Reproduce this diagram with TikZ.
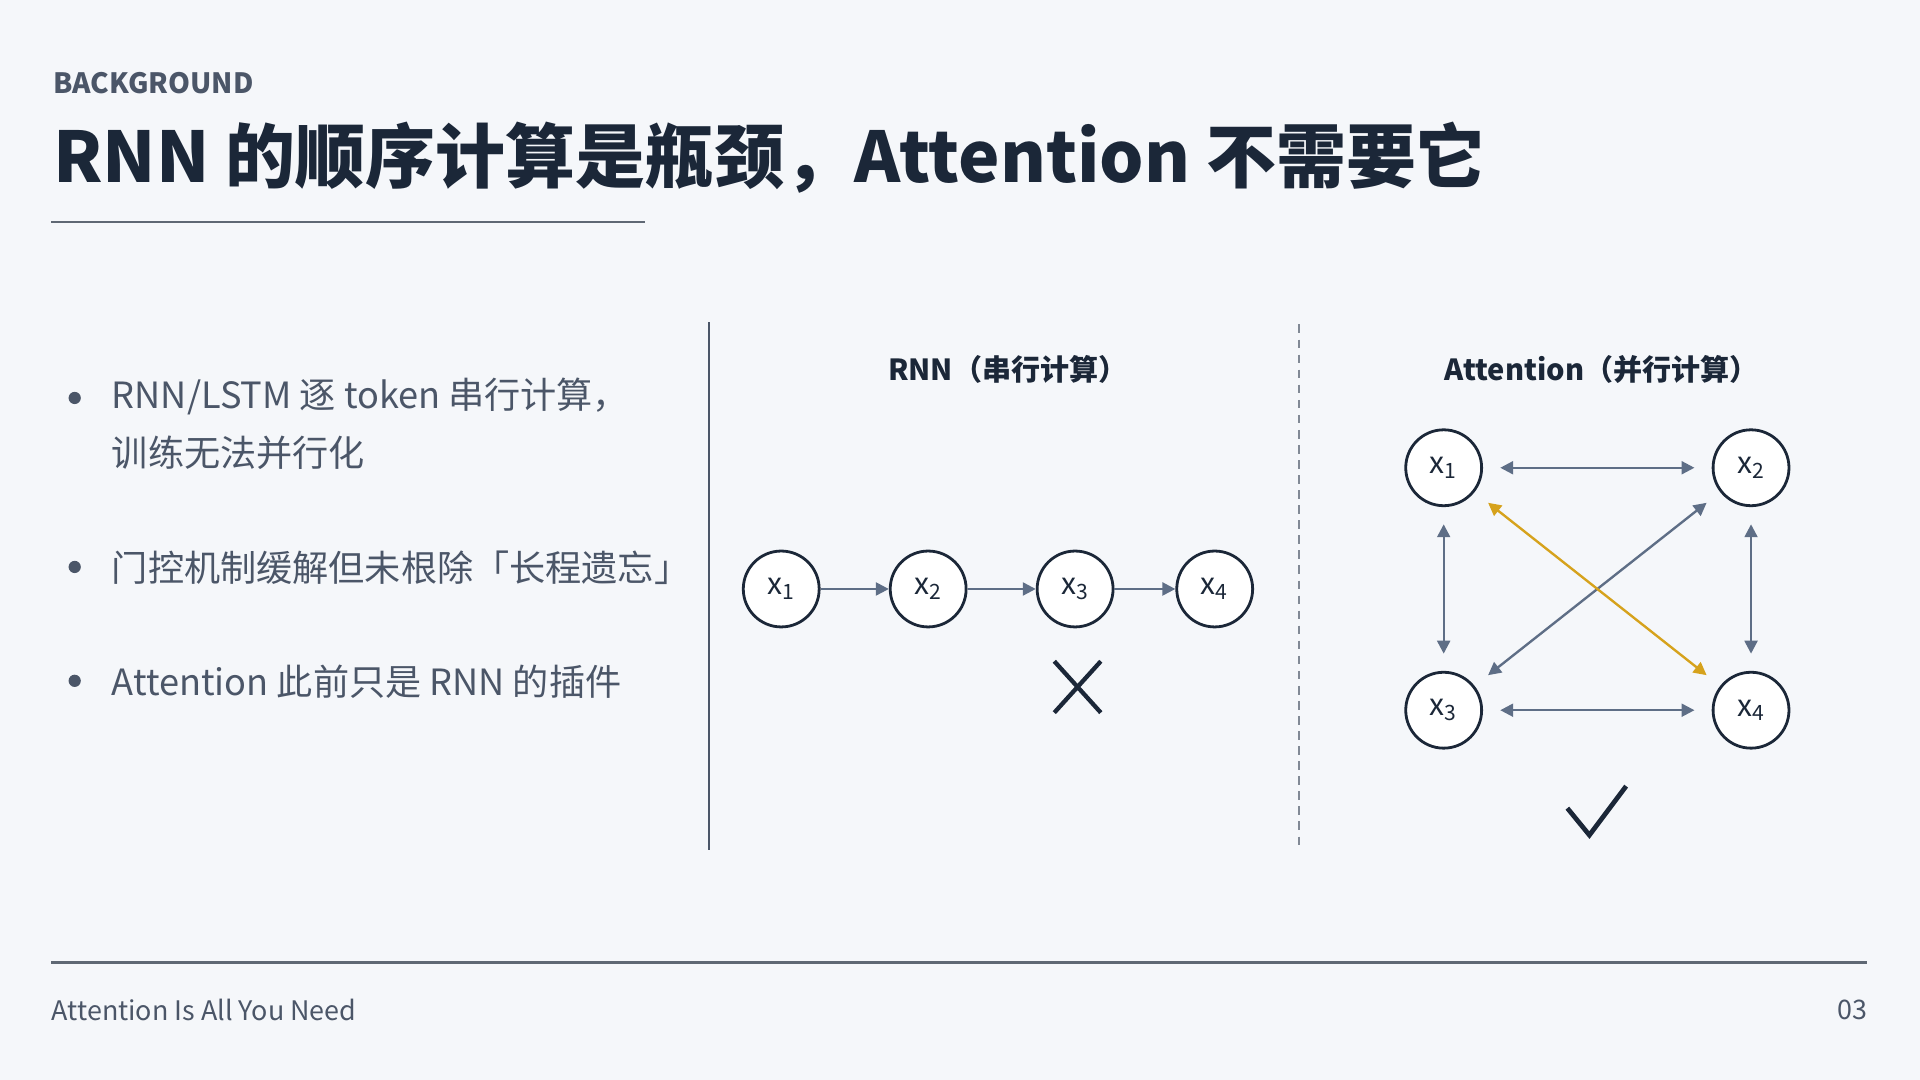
\documentclass[tikz,border=0pt]{standalone}
\usepackage{fontspec}
\setmainfont{Noto Sans CJK SC}
\usetikzlibrary{arrows.meta}
\definecolor{bgcol}{HTML}{F5F7FA}
\definecolor{navy}{HTML}{1B2738}
\definecolor{greytext}{HTML}{4B5668}
\definecolor{arrowcol}{HTML}{5E6E86}
\definecolor{gold}{HTML}{D6A21C}
\tikzset{
  tok/.style={circle, draw=navy, line width=1.3pt, fill=white, minimum size=1.24cm, inner sep=0pt, font=\fontsize{14}{16}\selectfont, text=navy},
  link/.style={draw=arrowcol, line width=1.1pt, -{Triangle[length=6pt,width=6pt]}},
  twoway/.style={draw=arrowcol, line width=1.1pt, {Triangle[length=6pt,width=6pt]}-{Triangle[length=6pt,width=6pt]}, shorten <=8pt, shorten >=8pt},
  bullet/.style={anchor=west, font=\fontsize{16.8}{27}\selectfont, text=greytext, align=left}
}
\begin{document}
\begin{tikzpicture}[x=0.02cm, y=-0.02cm]
	\fill[bgcol] (0,0) rectangle (1568,882);
	\node [anchor=west, inner sep=0pt, text=greytext, font=\fontsize{13}{14}\bfseries] (head) at (43,68) {BACKGROUND};
	\node [anchor=west, inner sep=0pt, text=navy, font=\fontsize{32.5}{36}\bfseries] (title) at (43,129) {RNN 的顺序计算是瓶颈，Attention 不需要它};
	\draw [navy!70, line width=1pt] (42,181) -- (527,181);
	% bullets
	\fill [greytext] (61,325) circle (5);
	\node [bullet, anchor=north west, inner sep=0pt] (b1) at (91,308) {RNN/LSTM 逐 token 串行计算，\\训练无法并行化};
	\fill [greytext] (61,463) circle (5);
	\node [bullet, inner sep=0pt] (b2) at (91,464) {门控机制缓解但未根除「长程遗忘」};
	\fill [greytext] (61,556) circle (5);
	\node [bullet, inner sep=0pt] (b3) at (91,557) {Attention 此前只是 RNN 的插件};
	\draw [greytext, line width=1pt] (579,263) -- (579,694);
	\draw [greytext!70, line width=0.8pt, dash pattern=on 4pt off 3pt] (1061,265) -- (1061,695);
	% RNN
	\node [text=navy, font=\fontsize{13.5}{16}\bfseries] (rnnt) at (823,302) {RNN（串行计算）};
	\node [tok] (r1) at (638,481) {x\textsubscript{1}};
	\node [tok] (r2) at (758,481) {x\textsubscript{2}};
	\node [tok] (r3) at (878,481) {x\textsubscript{3}};
	\node [tok] (r4) at (992,481) {x\textsubscript{4}};
	\draw [link] (r1) -- (r2);
	\draw [link] (r2) -- (r3);
	\draw [link] (r3) -- (r4);
	\draw [navy, line width=2pt] (861,540) -- (899,582) (899,540) -- (861,582);
	% Attention
	\node [text=navy, font=\fontsize{13.5}{16}\bfseries] (attt) at (1308,302) {Attention（并行计算）};
	\node [tok] (a1) at (1179,382) {x\textsubscript{1}};
	\node [tok] (a2) at (1430,382) {x\textsubscript{2}};
	\node [tok] (a3) at (1179,580) {x\textsubscript{3}};
	\node [tok] (a4) at (1430,580) {x\textsubscript{4}};
	\draw [twoway] (a1) -- (a2);
	\draw [twoway] (a3) -- (a4);
	\draw [twoway] (a1) -- (a3);
	\draw [twoway] (a2) -- (a4);
	\draw [twoway] (a3) -- (a2);
	\draw [twoway, draw=gold] (a1) -- (a4);
	\draw [navy, line width=2.2pt] (1280,660) -- (1298,682) -- (1328,642);
	% footer
	\draw [navy!70, line width=1pt] (42,786) -- (1525,786);
	\node [anchor=west, inner sep=0pt, text=greytext, font=\fontsize{12.5}{14}\selectfont] (foot) at (42,825) {Attention Is All You Need};
	\node [anchor=east, inner sep=0pt, text=greytext, font=\fontsize{12.5}{14}\selectfont] (page) at (1525,825) {03};
\end{tikzpicture}
\end{document}
